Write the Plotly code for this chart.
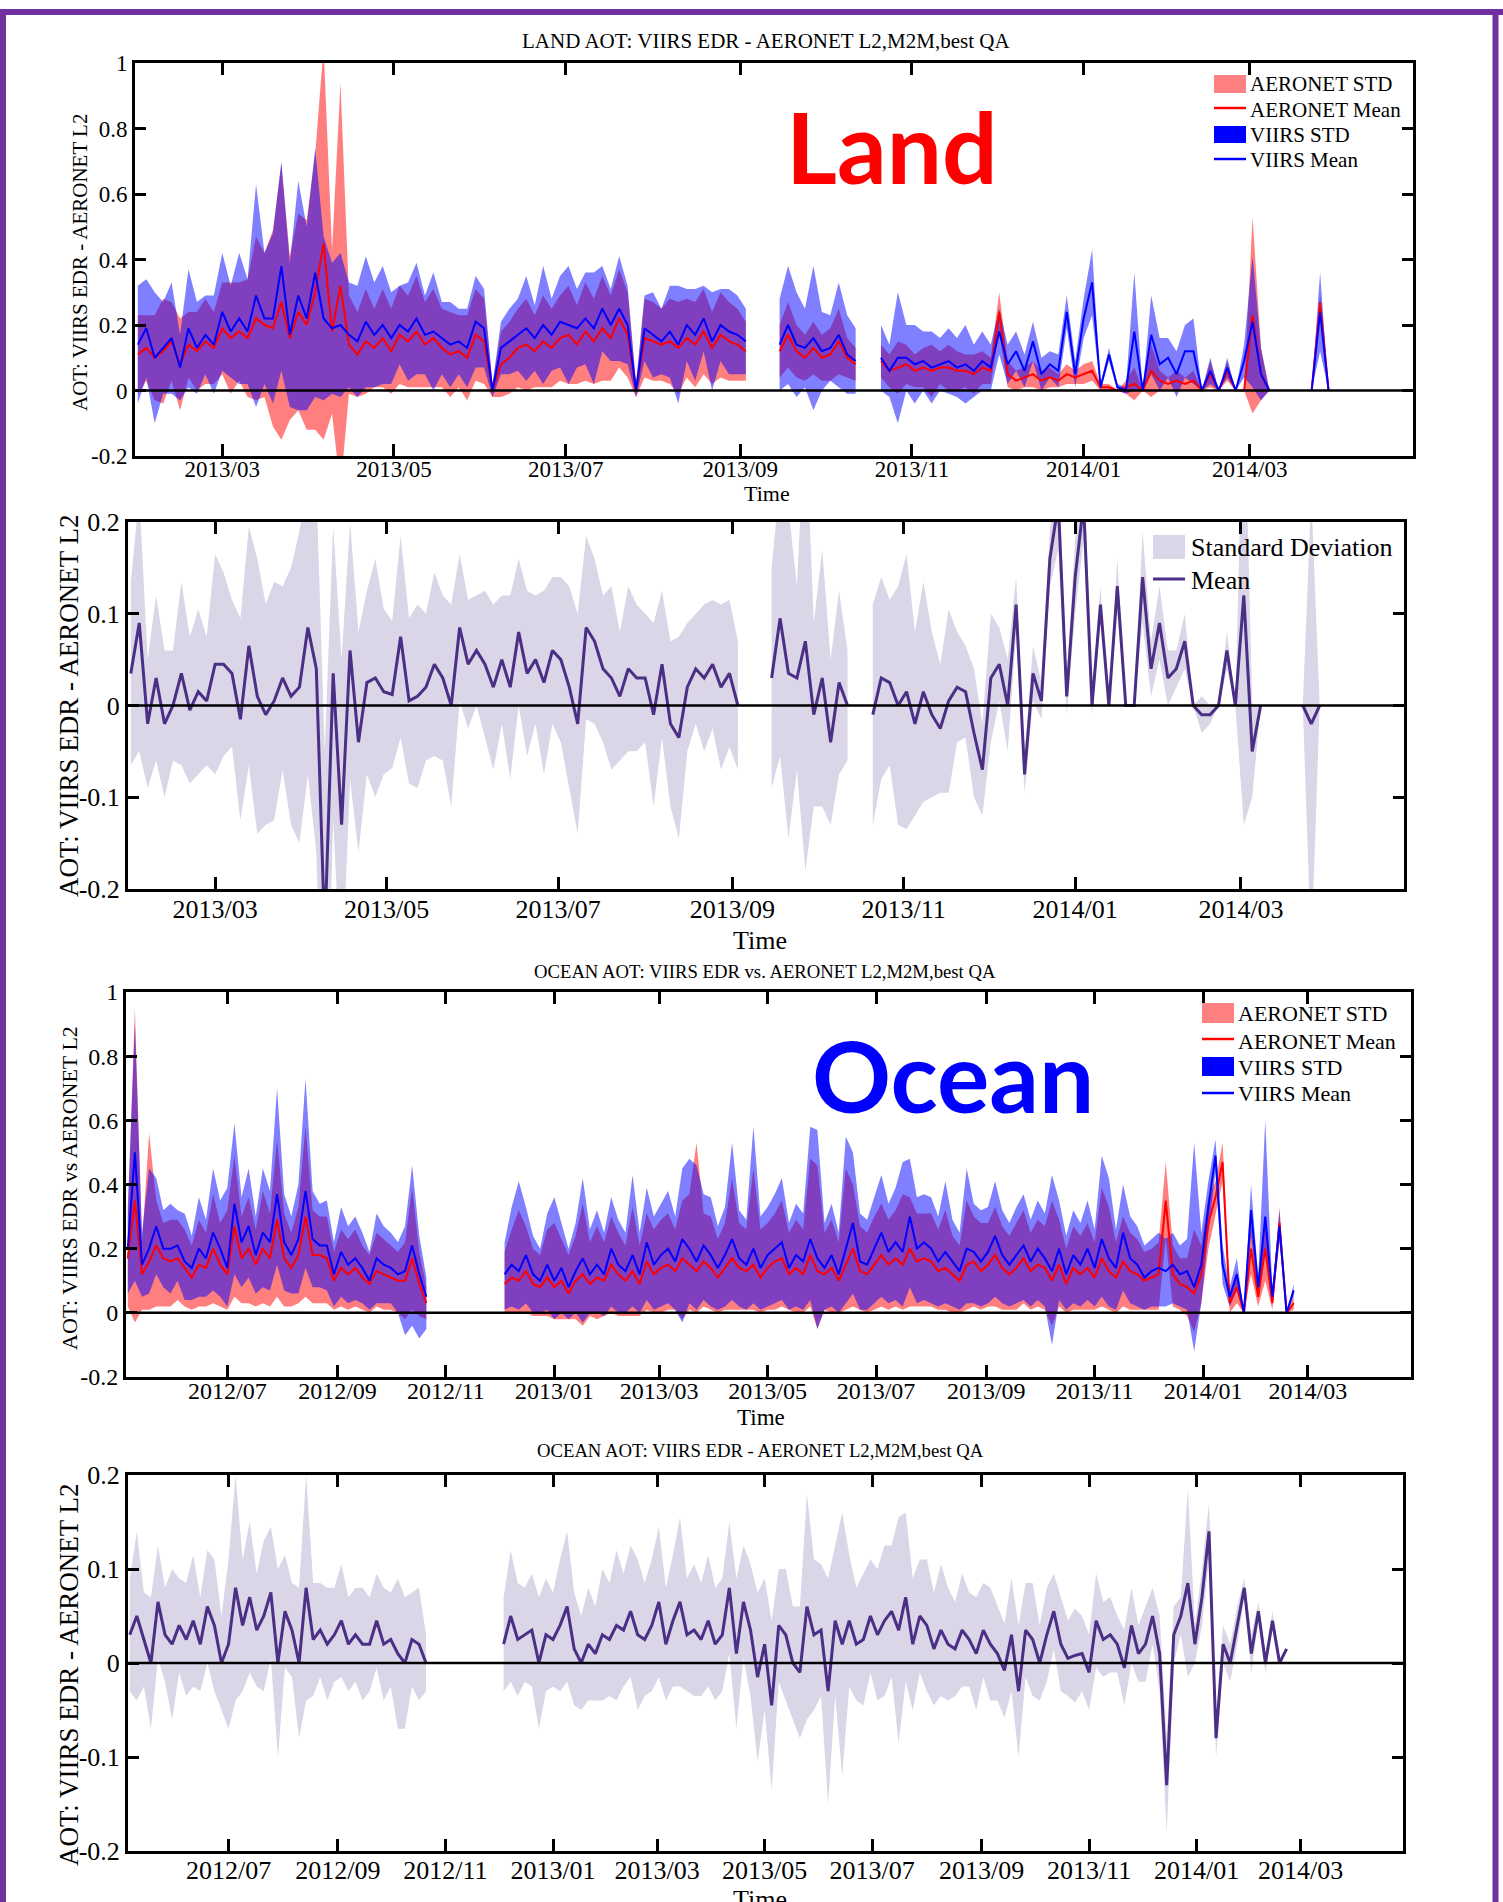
import plotly.graph_objects as go
import pandas as pd

W, H = 1503, 1902
N = None

# ---------------- DATA ----------------
# Land: samples every 3 days starting 2013-01-30
land_start = "2013-01-30"
land_step = "3D"

land_aeronet_mean = [
    0.11, 0.13, 0.10, 0.12, 0.15, 0.08, 0.14, 0.12, 0.15, 0.13,
    0.19, 0.16, 0.18, 0.16, 0.22, 0.20, 0.19, 0.27, 0.16, 0.24,
    0.20, 0.30, 0.45, 0.18, 0.32, 0.14, 0.11, 0.15, 0.13, 0.16,
    0.12, 0.17, 0.15, 0.18, 0.14, 0.16, 0.13, 0.11, 0.12, 0.10,
    0.17, 0.15, 0.00, 0.08, 0.10, 0.13, 0.14, 0.12, 0.15, 0.13,
    0.16, 0.17, 0.14, 0.18, 0.15, 0.19, 0.16, 0.22, 0.17, 0.00,
    0.16, 0.15, 0.14, 0.15, 0.13, 0.16, 0.14, 0.18, 0.13, 0.17,
    0.15, 0.14, 0.12, N, N, N, 0.12, 0.17, 0.12, 0.10,
    0.13, 0.10, 0.11, 0.15, 0.10, 0.08, N, N, 0.09, 0.06,
    0.07, 0.08, 0.06, 0.07, 0.06, 0.07, 0.07, 0.06, 0.06, 0.05,
    0.07, 0.06, 0.24, 0.05, 0.03, 0.04, 0.05, 0.03, 0.04, 0.03,
    0.05, 0.04, 0.05, 0.06, 0.01, 0.01, 0.00, 0.01, 0.02, 0.00,
    0.06, 0.03, 0.02, 0.03, 0.02, 0.03, 0.00, 0.05, 0.00, 0.06,
    0.00, 0.00, 0.23, 0.05, 0.00, N, N, N, N, 0.00,
    0.27, 0.00,
]
land_aeronet_std = [
    0.12, 0.10, 0.13, 0.16, 0.12, 0.14, 0.10, 0.12, 0.13, 0.11,
    0.14, 0.17, 0.15, 0.18, 0.25, 0.22, 0.30, 0.42, 0.25, 0.30,
    0.32, 0.42, 0.60, 0.25, 0.62, 0.15, 0.13, 0.16, 0.12, 0.15,
    0.13, 0.15, 0.14, 0.17, 0.13, 0.15, 0.12, 0.13, 0.11, 0.13,
    0.14, 0.13, 0.02, 0.10, 0.11, 0.12, 0.14, 0.11, 0.14, 0.12,
    0.13, 0.15, 0.12, 0.15, 0.13, 0.16, 0.13, 0.15, 0.13, 0.02,
    0.12, 0.12, 0.11, 0.13, 0.14, 0.12, 0.13, 0.13, 0.11, 0.13,
    0.12, 0.11, 0.09, N, N, N, 0.08, 0.10, 0.08, 0.07,
    0.08, 0.07, 0.08, 0.10, 0.06, 0.05, N, N, 0.05, 0.05,
    0.08, 0.06, 0.05, 0.06, 0.08, 0.05, 0.07, 0.06, 0.05, 0.06,
    0.05, 0.04, 0.06, 0.04, 0.03, 0.03, 0.04, 0.03, 0.03, 0.02,
    0.03, 0.02, 0.03, 0.03, 0.01, 0.01, 0.00, 0.02, 0.05, 0.00,
    0.08, 0.03, 0.02, 0.03, 0.02, 0.03, 0.00, 0.04, 0.00, 0.03,
    0.00, 0.00, 0.30, 0.08, 0.00, N, N, N, N, 0.00,
    0.02, 0.00,
]
land_viirs_mean = [
    0.14, 0.19, 0.10, 0.13, 0.16, 0.07, 0.19, 0.13, 0.17, 0.14,
    0.24, 0.18, 0.22, 0.18, 0.29, 0.22, 0.22, 0.38, 0.17, 0.29,
    0.22, 0.36, 0.22, 0.19, 0.20, 0.17, 0.15, 0.21, 0.17, 0.20,
    0.16, 0.20, 0.18, 0.22, 0.17, 0.18, 0.16, 0.14, 0.15, 0.13,
    0.21, 0.19, 0.00, 0.13, 0.15, 0.17, 0.19, 0.16, 0.20, 0.17,
    0.21, 0.20, 0.19, 0.22, 0.19, 0.25, 0.20, 0.25, 0.20, 0.00,
    0.19, 0.17, 0.15, 0.18, 0.14, 0.20, 0.17, 0.22, 0.15, 0.20,
    0.18, 0.17, 0.15, N, N, N, 0.14, 0.20, 0.14, 0.13,
    0.16, 0.12, 0.13, 0.17, 0.11, 0.09, N, N, 0.10, 0.06,
    0.10, 0.10, 0.08, 0.09, 0.07, 0.08, 0.09, 0.07, 0.08, 0.06,
    0.09, 0.07, 0.18, 0.08, 0.12, 0.06, 0.15, 0.05, 0.08, 0.06,
    0.24, 0.05, 0.22, 0.33, 0.01, 0.11, 0.01, 0.00, 0.18, 0.00,
    0.17, 0.08, 0.10, 0.05, 0.12, 0.12, 0.00, 0.06, 0.00, 0.07,
    0.00, 0.09, 0.21, 0.05, 0.00, N, N, N, N, 0.00,
    0.24, 0.00,
]
land_viirs_std = [
    0.18, 0.15, 0.20, 0.14, 0.17, 0.10, 0.18, 0.14, 0.12, 0.15,
    0.18, 0.14, 0.20, 0.16, 0.34, 0.20, 0.26, 0.32, 0.22, 0.35,
    0.28, 0.38, 0.25, 0.20, 0.22, 0.16, 0.17, 0.20, 0.16, 0.18,
    0.14, 0.12, 0.15, 0.17, 0.12, 0.18, 0.11, 0.13, 0.10, 0.12,
    0.14, 0.12, 0.02, 0.08, 0.10, 0.11, 0.16, 0.10, 0.18, 0.11,
    0.14, 0.18, 0.12, 0.14, 0.17, 0.13, 0.11, 0.16, 0.12, 0.02,
    0.10, 0.13, 0.10, 0.14, 0.18, 0.11, 0.14, 0.10, 0.15, 0.11,
    0.13, 0.12, 0.10, N, N, N, 0.14, 0.18, 0.16, 0.12,
    0.22, 0.12, 0.10, 0.16, 0.12, 0.10, N, N, 0.10, 0.08,
    0.20, 0.10, 0.12, 0.09, 0.11, 0.08, 0.10, 0.09, 0.12, 0.08,
    0.09, 0.07, 0.07, 0.06, 0.06, 0.05, 0.06, 0.05, 0.04, 0.05,
    0.05, 0.04, 0.06, 0.10, 0.01, 0.02, 0.01, 0.01, 0.18, 0.00,
    0.12, 0.08, 0.06, 0.07, 0.08, 0.10, 0.00, 0.04, 0.00, 0.03,
    0.00, 0.05, 0.20, 0.08, 0.00, N, N, N, N, 0.00,
    0.12, 0.00,
]
land_bias_mean = [
    0.035, 0.09, -0.02, 0.03, -0.02, 0.00, 0.035, -0.005, 0.015, 0.005,
    0.045, 0.045, 0.035, -0.015, 0.065, 0.01, -0.01, 0.005, 0.03, 0.01,
    0.02, 0.085, 0.04, -0.25, 0.035, -0.13, 0.06, -0.04, 0.025, 0.03,
    0.015, 0.012, 0.075, 0.005, 0.01, 0.02, 0.045, 0.03, 0.00, 0.085,
    0.045, 0.06, 0.045, 0.02, 0.05, 0.02, 0.08, 0.035, 0.05, 0.025,
    0.06, 0.05, 0.02, -0.02, 0.085, 0.07, 0.04, 0.03, 0.01, 0.04,
    0.03, 0.03, -0.01, 0.045, -0.02, -0.035, 0.02, 0.04, 0.03, 0.045,
    0.02, 0.035, 0.00, N, N, N, 0.03, 0.095, 0.035, 0.03,
    0.07, -0.01, 0.03, -0.04, 0.025, 0.00, N, N, -0.01, 0.03,
    0.025, 0.00, 0.015, -0.02, 0.015, -0.01, -0.025, 0.005, 0.02, 0.015,
    -0.03, -0.07, 0.03, 0.045, 0.00, 0.11, -0.075, 0.035, 0.005, 0.16,
    0.22, 0.01, 0.14, 0.22, 0.00, 0.11, 0.00, 0.13, 0.00, 0.00,
    0.14, 0.04, 0.09, 0.03, 0.04, 0.07, 0.00, -0.01, -0.01, 0.00,
    0.06, 0.00, 0.12, -0.05, 0.00, N, N, N, N, 0.00,
    -0.02, 0.00,
]
land_bias_std = [
    0.10, 0.14, 0.07, 0.09, 0.08, 0.06, 0.10, 0.08, 0.09, 0.07,
    0.12, 0.10, 0.08, 0.11, 0.13, 0.15, 0.12, 0.13, 0.10, 0.14,
    0.17, 0.16, 0.20, 0.20, 0.16, 0.18, 0.14, 0.12, 0.10, 0.13,
    0.09, 0.08, 0.11, 0.09, 0.10, 0.08, 0.10, 0.09, 0.11, 0.08,
    0.07, 0.06, 0.08, 0.09, 0.07, 0.10, 0.08, 0.09, 0.07, 0.10,
    0.08, 0.09, 0.11, 0.12, 0.10, 0.09, 0.08, 0.10, 0.07, 0.09,
    0.08, 0.07, 0.10, 0.08, 0.09, 0.11, 0.07, 0.06, 0.08, 0.07,
    0.09, 0.08, 0.07, N, N, N, 0.12, 0.15, 0.18, 0.10,
    0.25, 0.10, 0.14, 0.09, 0.10, 0.06, N, N, 0.12, 0.11,
    0.09, 0.13, 0.15, 0.10, 0.12, 0.09, 0.07, 0.10, 0.06, 0.05,
    0.07, 0.05, 0.07, 0.04, 0.05, 0.03, 0.02, 0.03, 0.02, 0.03,
    0.05, 0.02, 0.04, 0.04, 0.01, 0.02, 0.00, 0.03, 0.00, 0.00,
    0.05, 0.03, 0.04, 0.03, 0.02, 0.03, 0.00, 0.02, 0.01, 0.00,
    0.02, 0.00, 0.25, 0.05, 0.00, N, N, N, N, 0.00,
    0.25, 0.00,
]

# Ocean: samples every 4 days starting 2012-05-06
ocean_start = "2012-05-06"
ocean_step = "4D"

ocean_aeronet_mean = [
    0.17, 0.35, 0.12, 0.16, 0.21, 0.17, 0.16, 0.17, 0.14, 0.11,
    0.15, 0.14, 0.20, 0.15, 0.12, 0.27, 0.17, 0.20, 0.15, 0.20,
    0.17, 0.29, 0.17, 0.14, 0.18, 0.30, 0.18, 0.18, 0.17, 0.10,
    0.14, 0.12, 0.14, 0.11, 0.09, 0.13, 0.12, 0.11, 0.10, 0.10,
    0.17, 0.09, 0.03, N, N, N, N, N, N, N,
    N, N, N, 0.09, 0.11, 0.10, 0.13, 0.09, 0.08, 0.11,
    0.08, 0.10, 0.06, 0.10, 0.12, 0.09, 0.11, 0.10, 0.15, 0.12,
    0.10, 0.13, 0.09, 0.16, 0.12, 0.14, 0.15, 0.13, 0.17, 0.15,
    0.13, 0.16, 0.14, 0.11, 0.14, 0.17, 0.14, 0.13, 0.15, 0.11,
    0.14, 0.16, 0.17, 0.12, 0.14, 0.12, 0.18, 0.13, 0.12, 0.14,
    0.10, 0.15, 0.20, 0.13, 0.12, 0.15, 0.18, 0.15, 0.17, 0.15,
    0.20, 0.16, 0.17, 0.16, 0.13, 0.14, 0.12, 0.10, 0.15, 0.16,
    0.13, 0.15, 0.18, 0.14, 0.12, 0.14, 0.17, 0.13, 0.15, 0.14,
    0.10, 0.15, 0.09, 0.14, 0.12, 0.14, 0.11, 0.17, 0.13, 0.11,
    0.16, 0.13, 0.12, 0.10, 0.11, 0.12, 0.35, 0.12, 0.09, 0.08,
    0.06, 0.12, 0.28, 0.36, 0.47, 0.03, 0.08, 0.00, 0.20, 0.05,
    0.20, 0.03, 0.28, 0.00, 0.03,
]
# upper / lower deviation of the AERONET STD band
ocean_aeronet_std_up = [
    0.12, 0.60, 0.10, 0.40, 0.14, 0.11, 0.13, 0.12, 0.12, 0.10,
    0.14, 0.11, 0.17, 0.13, 0.20, 0.22, 0.13, 0.16, 0.11, 0.18,
    0.14, 0.25, 0.14, 0.11, 0.15, 0.28, 0.14, 0.12, 0.13, 0.09,
    0.12, 0.11, 0.12, 0.10, 0.09, 0.12, 0.11, 0.10, 0.09, 0.12,
    0.22, 0.10, 0.05, N, N, N, N, N, N, N,
    N, N, N, 0.10, 0.15, 0.22, 0.14, 0.11, 0.10, 0.15,
    0.20, 0.13, 0.12, 0.14, 0.22, 0.13, 0.16, 0.12, 0.15, 0.13,
    0.11, 0.20, 0.12, 0.15, 0.14, 0.15, 0.16, 0.13, 0.18, 0.22,
    0.40, 0.15, 0.16, 0.12, 0.14, 0.25, 0.14, 0.13, 0.30, 0.15,
    0.14, 0.15, 0.18, 0.13, 0.15, 0.14, 0.30, 0.33, 0.13, 0.15,
    0.12, 0.30, 0.20, 0.14, 0.13, 0.15, 0.16, 0.14, 0.15, 0.22,
    0.16, 0.15, 0.14, 0.15, 0.13, 0.18, 0.12, 0.11, 0.20, 0.14,
    0.15, 0.13, 0.15, 0.13, 0.12, 0.14, 0.15, 0.12, 0.14, 0.13,
    0.25, 0.14, 0.11, 0.13, 0.12, 0.14, 0.11, 0.22, 0.20, 0.11,
    0.14, 0.12, 0.11, 0.09, 0.09, 0.10, 0.12, 0.09, 0.08, 0.09,
    0.20, 0.09, 0.08, 0.05, 0.06, 0.03, 0.05, 0.00, 0.08, 0.03,
    0.10, 0.02, 0.05, 0.00, 0.02,
]
ocean_aeronet_std_lo = [
    0.15, 0.38, 0.11, 0.15, 0.19, 0.15, 0.14, 0.13, 0.12, 0.10,
    0.13, 0.12, 0.17, 0.13, 0.11, 0.22, 0.14, 0.17, 0.13, 0.17,
    0.15, 0.24, 0.15, 0.12, 0.15, 0.25, 0.15, 0.15, 0.14, 0.09,
    0.12, 0.11, 0.12, 0.10, 0.09, 0.11, 0.11, 0.10, 0.10, 0.12,
    0.16, 0.10, 0.05, N, N, N, N, N, N, N,
    N, N, N, 0.09, 0.11, 0.10, 0.13, 0.10, 0.09, 0.12,
    0.10, 0.12, 0.08, 0.12, 0.16, 0.10, 0.13, 0.11, 0.15, 0.13,
    0.11, 0.14, 0.10, 0.15, 0.12, 0.14, 0.14, 0.12, 0.19, 0.14,
    0.13, 0.14, 0.13, 0.11, 0.13, 0.16, 0.13, 0.12, 0.14, 0.11,
    0.13, 0.15, 0.15, 0.11, 0.14, 0.12, 0.16, 0.18, 0.11, 0.14,
    0.10, 0.14, 0.18, 0.12, 0.12, 0.14, 0.16, 0.14, 0.15, 0.14,
    0.18, 0.14, 0.15, 0.14, 0.12, 0.13, 0.12, 0.10, 0.14, 0.14,
    0.12, 0.13, 0.16, 0.13, 0.11, 0.13, 0.14, 0.12, 0.13, 0.13,
    0.14, 0.13, 0.09, 0.13, 0.11, 0.13, 0.10, 0.15, 0.12, 0.11,
    0.14, 0.12, 0.11, 0.09, 0.10, 0.11, 0.12, 0.10, 0.08, 0.09,
    0.12, 0.09, 0.08, 0.05, 0.06, 0.03, 0.05, 0.00, 0.08, 0.03,
    0.10, 0.02, 0.05, 0.00, 0.02,
]
ocean_viirs_mean = [
    0.20, 0.50, 0.15, 0.20, 0.27, 0.20, 0.20, 0.21, 0.16, 0.14,
    0.20, 0.17, 0.25, 0.20, 0.14, 0.34, 0.22, 0.27, 0.18, 0.25,
    0.22, 0.37, 0.22, 0.18, 0.23, 0.38, 0.23, 0.21, 0.21, 0.12,
    0.19, 0.15, 0.17, 0.14, 0.10, 0.17, 0.15, 0.14, 0.12, 0.13,
    0.21, 0.12, 0.05, N, N, N, N, N, N, N,
    N, N, N, 0.12, 0.15, 0.13, 0.18, 0.12, 0.10, 0.15,
    0.10, 0.14, 0.08, 0.13, 0.17, 0.12, 0.15, 0.12, 0.20, 0.15,
    0.13, 0.18, 0.12, 0.22, 0.15, 0.18, 0.20, 0.16, 0.23, 0.20,
    0.16, 0.21, 0.18, 0.14, 0.18, 0.23, 0.17, 0.15, 0.20, 0.14,
    0.18, 0.20, 0.22, 0.14, 0.18, 0.16, 0.23, 0.17, 0.14, 0.18,
    0.12, 0.20, 0.28, 0.16, 0.15, 0.20, 0.25, 0.19, 0.22, 0.19,
    0.30, 0.20, 0.22, 0.20, 0.16, 0.19, 0.16, 0.13, 0.20, 0.19,
    0.16, 0.19, 0.24, 0.18, 0.15, 0.18, 0.21, 0.16, 0.20, 0.17,
    0.13, 0.20, 0.12, 0.18, 0.15, 0.20, 0.14, 0.23, 0.17, 0.14,
    0.25, 0.17, 0.15, 0.11, 0.13, 0.14, 0.13, 0.15, 0.12, 0.13,
    0.08, 0.15, 0.33, 0.49, 0.15, 0.05, 0.12, 0.00, 0.32, 0.08,
    0.30, 0.05, 0.27, 0.00, 0.07,
]
# upper / lower deviation of the VIIRS STD band
ocean_viirs_std_up = [
    0.13, 0.40, 0.10, 0.25, 0.15, 0.12, 0.14, 0.11, 0.15, 0.10,
    0.16, 0.12, 0.20, 0.15, 0.25, 0.25, 0.14, 0.18, 0.12, 0.20,
    0.16, 0.33, 0.15, 0.12, 0.17, 0.35, 0.15, 0.13, 0.14, 0.10,
    0.14, 0.12, 0.13, 0.11, 0.09, 0.14, 0.12, 0.11, 0.10, 0.14,
    0.25, 0.12, 0.06, N, N, N, N, N, N, N,
    N, N, N, 0.10, 0.18, 0.28, 0.15, 0.12, 0.10, 0.16,
    0.26, 0.14, 0.12, 0.15, 0.25, 0.14, 0.17, 0.13, 0.16, 0.14,
    0.12, 0.25, 0.13, 0.17, 0.15, 0.16, 0.18, 0.14, 0.22, 0.28,
    0.30, 0.16, 0.18, 0.13, 0.15, 0.30, 0.15, 0.14, 0.38, 0.16,
    0.15, 0.17, 0.20, 0.14, 0.16, 0.15, 0.35, 0.40, 0.14, 0.16,
    0.13, 0.35, 0.22, 0.15, 0.14, 0.16, 0.18, 0.15, 0.17, 0.28,
    0.18, 0.16, 0.15, 0.16, 0.14, 0.22, 0.13, 0.12, 0.25, 0.15,
    0.16, 0.14, 0.17, 0.14, 0.13, 0.15, 0.16, 0.13, 0.15, 0.14,
    0.30, 0.15, 0.12, 0.14, 0.13, 0.15, 0.12, 0.26, 0.25, 0.12,
    0.15, 0.13, 0.12, 0.10, 0.10, 0.11, 0.10, 0.10, 0.09, 0.10,
    0.45, 0.10, 0.08, 0.05, 0.06, 0.03, 0.05, 0.00, 0.08, 0.03,
    0.30, 0.02, 0.05, 0.00, 0.02,
]
ocean_viirs_std_lo = [
    0.14, 0.40, 0.10, 0.14, 0.15, 0.12, 0.14, 0.11, 0.12, 0.10,
    0.15, 0.12, 0.18, 0.15, 0.12, 0.22, 0.14, 0.16, 0.12, 0.17,
    0.15, 0.22, 0.15, 0.12, 0.17, 0.24, 0.15, 0.13, 0.14, 0.10,
    0.14, 0.12, 0.13, 0.11, 0.09, 0.14, 0.12, 0.11, 0.12, 0.20,
    0.25, 0.20, 0.10, N, N, N, N, N, N, N,
    N, N, N, 0.11, 0.13, 0.12, 0.15, 0.12, 0.10, 0.14,
    0.12, 0.14, 0.10, 0.13, 0.20, 0.12, 0.15, 0.13, 0.18, 0.15,
    0.13, 0.16, 0.12, 0.18, 0.14, 0.16, 0.17, 0.15, 0.26, 0.17,
    0.15, 0.17, 0.16, 0.13, 0.16, 0.19, 0.15, 0.14, 0.17, 0.13,
    0.16, 0.17, 0.18, 0.13, 0.16, 0.15, 0.19, 0.22, 0.13, 0.16,
    0.12, 0.17, 0.22, 0.15, 0.14, 0.17, 0.20, 0.16, 0.18, 0.17,
    0.22, 0.17, 0.18, 0.17, 0.14, 0.16, 0.14, 0.12, 0.17, 0.16,
    0.14, 0.16, 0.19, 0.15, 0.13, 0.15, 0.17, 0.14, 0.16, 0.15,
    0.23, 0.16, 0.11, 0.15, 0.13, 0.16, 0.12, 0.18, 0.15, 0.13,
    0.18, 0.14, 0.13, 0.10, 0.11, 0.12, 0.11, 0.12, 0.10, 0.12,
    0.20, 0.12, 0.08, 0.05, 0.06, 0.03, 0.05, 0.00, 0.08, 0.03,
    0.10, 0.02, 0.05, 0.00, 0.02,
]
ocean_bias_mean = [
    0.03, 0.05, 0.025, 0.00, 0.065, 0.03, 0.02, 0.04, 0.025, 0.045,
    0.02, 0.06, 0.04, 0.00, 0.02, 0.08, 0.04, 0.07, 0.035, 0.05,
    0.075, 0.00, 0.055, 0.035, 0.00, 0.08, 0.025, 0.035, 0.02, 0.03,
    0.045, 0.02, 0.03, 0.02, 0.02, 0.045, 0.02, 0.025, 0.01, 0.00,
    0.025, 0.02, 0.00, N, N, N, N, N, N, N,
    N, N, N, 0.02, 0.05, 0.025, 0.03, 0.035, 0.00, 0.03,
    0.025, 0.04, 0.06, 0.015, 0.00, 0.02, 0.01, 0.03, 0.025, 0.04,
    0.035, 0.055, 0.03, 0.025, 0.04, 0.065, 0.02, 0.045, 0.065, 0.03,
    0.035, 0.025, 0.045, 0.02, 0.03, 0.08, 0.01, 0.065, 0.035, -0.015,
    0.02, -0.045, 0.04, 0.03, 0.00, -0.01, 0.06, 0.03, 0.035, -0.03,
    0.045, 0.02, 0.045, 0.02, 0.025, 0.05, 0.03, 0.045, 0.055, 0.035,
    0.07, 0.02, 0.05, 0.04, 0.015, 0.035, 0.02, 0.015, 0.035, 0.025,
    0.01, 0.035, 0.02, 0.01, -0.008, 0.03, -0.03, 0.035, 0.025, 0.00,
    0.03, 0.055, 0.02, 0.005, 0.008, 0.01, -0.01, 0.045, 0.025, 0.03,
    0.02, -0.005, 0.04, 0.01, 0.02, 0.05, 0.01, -0.13, 0.03, 0.05,
    0.085, 0.02, 0.07, 0.14, -0.08, 0.02, 0.00, 0.04, 0.08, 0.01,
    0.055, 0.00, 0.045, 0.00, 0.015,
]
ocean_bias_std = [
    0.06, 0.09, 0.05, 0.07, 0.06, 0.05, 0.08, 0.05, 0.06, 0.07,
    0.05, 0.06, 0.07, 0.05, 0.09, 0.12, 0.07, 0.08, 0.06, 0.08,
    0.07, 0.10, 0.06, 0.05, 0.08, 0.12, 0.06, 0.05, 0.06, 0.05,
    0.06, 0.05, 0.05, 0.06, 0.05, 0.05, 0.06, 0.05, 0.08, 0.07,
    0.05, 0.06, 0.03, N, N, N, N, N, N, N,
    N, N, N, 0.05, 0.07, 0.06, 0.05, 0.06, 0.07, 0.06,
    0.05, 0.07, 0.08, 0.06, 0.05, 0.06, 0.05, 0.07, 0.06, 0.08,
    0.06, 0.07, 0.08, 0.06, 0.07, 0.08, 0.06, 0.07, 0.09, 0.06,
    0.07, 0.06, 0.07, 0.06, 0.06, 0.07, 0.08, 0.06, 0.07, 0.09,
    0.07, 0.09, 0.06, 0.07, 0.06, 0.07, 0.12, 0.08, 0.07, 0.12,
    0.08, 0.14, 0.07, 0.06, 0.07, 0.06, 0.07, 0.08, 0.07, 0.12,
    0.09, 0.07, 0.06, 0.07, 0.06, 0.07, 0.06, 0.05, 0.06, 0.05,
    0.06, 0.05, 0.06, 0.05, 0.05, 0.06, 0.07, 0.05, 0.06, 0.04,
    0.05, 0.04, 0.05, 0.04, 0.05, 0.04, 0.04, 0.05, 0.04, 0.04,
    0.03, 0.04, 0.04, 0.03, 0.04, 0.03, 0.04, 0.05, 0.03, 0.02,
    0.10, 0.02, 0.03, 0.03, 0.02, 0.02, 0.02, 0.02, 0.01, 0.02,
    0.01, 0.01, 0.01, 0.00, 0.00,
]

land_xrange = ["2013-01-29", "2014-04-28"]
ocean_xrange = ["2012-05-05", "2014-04-28"]
land_tick0 = "2013-01-01"
ocean_tick0 = "2012-07-01"

aot_ticks = [-0.2, 0, 0.2, 0.4, 0.6, 0.8, 1]
aot_ticktext = ["-0.2", "0", "0.2", "0.4", "0.6", "0.8", "1"]
bias_ticks = [-0.2, -0.1, 0, 0.1, 0.2]
bias_ticktext = ["-0.2", "-0.1", "0", "0.1", "0.2"]

# ---------------- STYLE ----------------
SERIF = "Liberation Serif, Times New Roman, serif"
PINK = "rgba(255,0,0,0.5)"
BLUE = "rgba(0,0,255,0.5)"
LAV = "#dad5e7"
PURP = "#4b2e86"
FRAME = "#7030a0"


def dates_for(start, step, n):
    return [d.strftime("%Y-%m-%d") for d in pd.date_range(start, periods=n, freq=step)]


land_dates = dates_for(land_start, land_step, len(land_aeronet_mean))
ocean_dates = dates_for(ocean_start, ocean_step, len(ocean_aeronet_mean))


def band_xy(dates, mean, dev_up, dev_lo):
    xs, ys, seg = [], [], []

    def flush():
        if seg:
            xs.extend([s[0] for s in seg] + [s[0] for s in reversed(seg)] + [None])
            ys.extend([s[1] + s[2] for s in seg] + [s[1] - s[3] for s in reversed(seg)] + [None])
            seg.clear()

    for d, m, su, sl in zip(dates, mean, dev_up, dev_lo):
        if m is None or su is None or sl is None:
            flush()
        else:
            seg.append((d, m, su, sl))
    flush()
    return xs, ys


def px(x):
    return x / W


def py(y):
    return 1 - y / H


fig = go.Figure()


def add_band(n, dates, mean, dev_up, dev_lo, color, name):
    bx, by = band_xy(dates, mean, dev_up, dev_lo)
    fig.add_trace(go.Scatter(x=bx, y=by, mode="lines", fill="toself", fillcolor=color,
                             line=dict(width=0), name=name, showlegend=False,
                             xaxis="x" + n, yaxis="y" + n, hoverinfo="skip"))


def add_line(n, dates, vals, color, width, name):
    fig.add_trace(go.Scatter(x=dates, y=vals, mode="lines", line=dict(color=color, width=width),
                             name=name, showlegend=False, connectgaps=False,
                             xaxis="x" + n, yaxis="y" + n))


# Panel 1 (Land)
add_band("", land_dates, land_aeronet_mean, land_aeronet_std, land_aeronet_std, PINK, "AERONET STD")
add_band("", land_dates, land_viirs_mean, land_viirs_std, land_viirs_std, BLUE, "VIIRS STD")
add_line("", land_dates, land_aeronet_mean, "#ff0000", 2, "AERONET Mean")
add_line("", land_dates, land_viirs_mean, "#0000ff", 2, "VIIRS Mean")
# Panel 2 (Land bias)
add_band("2", land_dates, land_bias_mean, land_bias_std, land_bias_std, LAV, "Standard Deviation")
add_line("2", land_dates, land_bias_mean, PURP, 3, "Mean")
# Panel 3 (Ocean)
add_band("3", ocean_dates, ocean_aeronet_mean, ocean_aeronet_std_up, ocean_aeronet_std_lo, PINK, "AERONET STD")
add_band("3", ocean_dates, ocean_viirs_mean, ocean_viirs_std_up, ocean_viirs_std_lo, BLUE, "VIIRS STD")
add_line("3", ocean_dates, ocean_aeronet_mean, "#ff0000", 2, "AERONET Mean")
add_line("3", ocean_dates, ocean_viirs_mean, "#0000ff", 2, "VIIRS Mean")
# Panel 4 (Ocean bias)
add_band("4", ocean_dates, ocean_bias_mean, ocean_bias_std, ocean_bias_std, LAV, "Standard Deviation")
add_line("4", ocean_dates, ocean_bias_mean, PURP, 3, "Mean")

panels = [
    # suffix, (left, right, top, bottom), xrange, tick0, yrange, ticks, ticktext, font, label shift
    ("", (135, 1413, 63, 456), land_xrange, land_tick0, [-0.2, 1], aot_ticks, aot_ticktext, 23, -10),
    ("2", (128, 1404, 522, 889), land_xrange, land_tick0, [-0.2, 0.2], bias_ticks, bias_ticktext, 26, -5),
    ("3", (126, 1411, 992, 1377), ocean_xrange, ocean_tick0, [-0.2, 1], aot_ticks, aot_ticktext, 24, -10),
    ("4", (128, 1403, 1475, 1851), ocean_xrange, ocean_tick0, [-0.2, 0.2], bias_ticks, bias_ticktext, 26, -6),
]

layout = dict(width=W, height=H, margin=dict(l=0, r=0, t=0, b=0, autoexpand=False),
              paper_bgcolor="white", plot_bgcolor="white", showlegend=False)
shapes = []
for suf, (l, r, t, b), xr, t0, yr, tv, tt, fs, shift in panels:
    layout["xaxis" + suf] = dict(
        domain=[px(l), px(r)], range=xr, type="date", tick0=t0, dtick="M2", tickformat="%Y/%m",
        ticks="inside", ticklen=12, tickwidth=2.5, tickcolor="black", showline=True,
        linecolor="black", linewidth=3, mirror="ticks", showgrid=False, zeroline=False,
        automargin=False, ticklabelstandoff=shift,
        tickfont=dict(family=SERIF, size=fs, color="black"),
        anchor="y" + suf, fixedrange=True)
    layout["yaxis" + suf] = dict(
        domain=[py(b), py(t)], range=yr, tickvals=tv, ticktext=tt,
        ticks="inside", ticklen=11, tickwidth=2.5, tickcolor="black", showline=True,
        linecolor="black", linewidth=3, mirror="ticks", showgrid=False, zeroline=False,
        automargin=False, tickfont=dict(family=SERIF, size=fs, color="black"),
        anchor="x" + suf, fixedrange=True)
    shapes.append(dict(type="line", xref="x" + suf + " domain", yref="y" + suf, x0=0, x1=1,
                       y0=0, y1=0, line=dict(color="black", width=2.5), layer="above"))

# purple frame
for x0, y0, x1, y1 in [(0, 12, W, 12), (3, 12, 3, H + 20), (1495.5, 12, 1495.5, H + 20)]:
    shapes.append(dict(type="line", xref="paper", yref="paper", x0=px(x0), x1=px(x1),
                       y0=py(y0), y1=py(y1), line=dict(color=FRAME, width=6)))

annotations = []


def text(x, y, s, size, color="black", family=SERIF, angle=0, xanchor="center", bold=False):
    annotations.append(dict(x=px(x), y=py(y), xref="paper", yref="paper", text=s,
                            showarrow=False, textangle=angle, xanchor=xanchor, yanchor="middle",
                            font=dict(family=family, size=size, color=color,
                                      weight="bold" if bold else "normal")))


# titles
text(766, 41, "LAND AOT: VIIRS EDR - AERONET L2,M2M,best QA", 21)
text(765, 971, "OCEAN AOT: VIIRS EDR vs. AERONET L2,M2M,best QA", 18.7)
text(760, 1450, "OCEAN AOT: VIIRS EDR - AERONET L2,M2M,best QA", 18.7)
# axis titles
text(80, 263, "AOT: VIIRS EDR - AERONET L2", 21, angle=-90)
text(69, 706, "AOT: VIIRS EDR - AERONET L2", 27, angle=-90)
text(69, 1188, "AOT: VIIRS EDR vs AERONET L2", 22, angle=-90)
text(69, 1675, "AOT: VIIRS EDR - AERONET L2", 27, angle=-90)
text(767, 494, "Time", 22)
text(760, 940, "Time", 26)
text(761, 1417, "Time", 23)
text(760, 1899, "Time", 26)
# big labels
text(892, 146, "Land", 98, color="#ff0000", family="Lato, Open Sans, sans-serif", bold=True)
text(953, 1075, "Ocean", 98, color="#0000ff", family="Lato, Open Sans, sans-serif", bold=True)


# manual legends
def leg_rect(x0, x1, y0, y1, color):
    shapes.append(dict(type="rect", xref="paper", yref="paper", x0=px(x0), x1=px(x1),
                       y0=py(y1), y1=py(y0), fillcolor=color, line=dict(width=0)))


def leg_line(x0, x1, y, color, w):
    shapes.append(dict(type="line", xref="paper", yref="paper", x0=px(x0), x1=px(x1),
                       y0=py(y), y1=py(y), line=dict(color=color, width=w)))


# panel 1 legend
leg_rect(1214, 1246, 75, 93, "#ff8080")
leg_line(1214, 1246, 108, "#ff0000", 2.5)
leg_rect(1214, 1246, 126, 143, "#0000ff")
leg_line(1214, 1246, 159, "#0000ff", 2.5)
for yy, s in [(84, "AERONET STD"), (110, "AERONET Mean"), (135, "VIIRS STD"), (160, "VIIRS Mean")]:
    text(1248, yy, s, 21, xanchor="left")
# panel 2 legend
leg_rect(1153, 1185, 535, 559, LAV)
leg_line(1153, 1185, 579, PURP, 3)
text(1189, 547, "Standard Deviation", 26, xanchor="left")
text(1189, 580, "Mean", 26, xanchor="left")
# panel 3 legend
leg_rect(1202, 1234, 1003, 1023, "#ff8080")
leg_line(1202, 1234, 1039, "#ff0000", 2.5)
leg_rect(1202, 1234, 1057, 1076, "#0000ff")
leg_line(1202, 1234, 1093, "#0000ff", 2.5)
for yy, s in [(1013, "AERONET STD"), (1041, "AERONET Mean"), (1067, "VIIRS STD"), (1093, "VIIRS Mean")]:
    text(1236, yy, s, 22, xanchor="left")

layout["shapes"] = shapes
layout["annotations"] = annotations
fig.update_layout(**layout)
fig.write_html("out.html", config={"displayModeBar": False},
               post_script="document.body.style.margin='0px';")
